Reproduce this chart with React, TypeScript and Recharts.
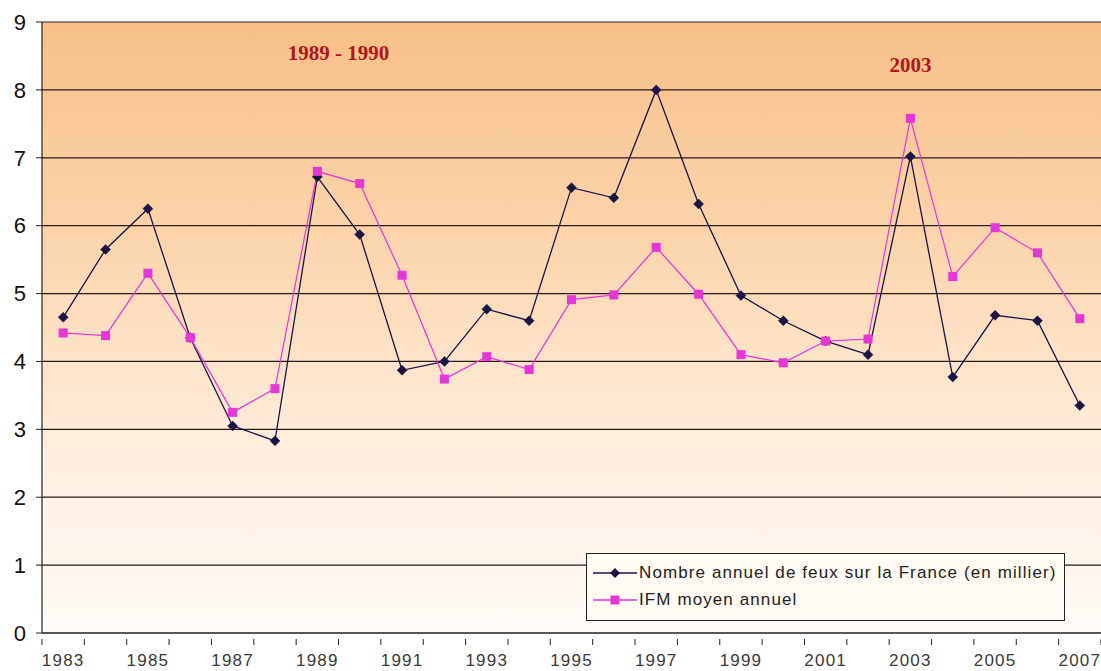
import React from 'react'
import {
  LineChart,
  Line,
  XAxis,
  YAxis,
  CartesianGrid,
  ReferenceDot,
} from 'recharts'

const years = [
  '1983', '1984', '1985', '1986', '1987', '1988', '1989', '1990', '1991', '1992',
  '1993', '1994', '1995', '1996', '1997', '1998', '1999', '2000', '2001', '2002',
  '2003', '2004', '2005', '2006', '2007',
]

// Nombre annuel de feux sur la France (en millier)
const feux = [
  4.65, 5.65, 6.25, 4.35, 3.05, 2.83, 6.72, 5.87, 3.87, 4.0,
  4.77, 4.6, 6.56, 6.41, 8.0, 6.32, 4.97, 4.6, 4.3, 4.1,
  7.02, 3.77, 4.68, 4.6, 3.35,
]

// IFM moyen annuel
const ifm = [
  4.42, 4.38, 5.3, 4.35, 3.25, 3.6, 6.8, 6.62, 5.27, 3.74,
  4.07, 3.88, 4.91, 4.98, 5.68, 4.99, 4.1, 3.98, 4.3, 4.33,
  7.58, 5.25, 5.97, 5.6, 4.63,
]

const yTicks = [0, 1, 2, 3, 4, 5, 6, 7, 8, 9]

const data = years.map((y, i) => ({ year: y, feux: feux[i], ifm: ifm[i] }))

if (typeof document !== 'undefined') document.body.style.margin = '0'

const W = 1101
const H = 671
const M = { top: 22, right: 0, left: 0, bottom: 0 }
const Y_W = 42
const X_H = 38
const BAND = (W - M.left - M.right - Y_W) / years.length

const NAVY = '#1c1446'
const PINK = '#e636d8'

const Diamond = ({ cx, cy }: any) => {
  if (cx == null || cy == null) return null
  const r = 5
  return (
    <path
      d={`M${cx},${cy - r} L${cx + r},${cy} L${cx},${cy + r} L${cx - r},${cy} Z`}
      fill={NAVY}
      stroke={NAVY}
      strokeWidth={0.5}
    />
  )
}

const Square = ({ cx, cy }: any) => {
  if (cx == null || cy == null) return null
  const s = 9
  return <rect x={cx - s / 2} y={cy - s / 2} width={s} height={s} fill={PINK} />
}

const XTick = ({ x, y, payload, index }: any) => {
  const i = index ?? payload?.index ?? 0
  const last = i === years.length - 1
  return (
    <g>
      <line x1={x - BAND / 2} x2={x - BAND / 2} y1={y - 2} y2={y + 4} stroke="#222" />
      {last && <line x1={x + BAND / 2} x2={x + BAND / 2} y1={y - 2} y2={y + 4} stroke="#222" />}
      {i % 2 === 0 && (
        <text
          x={x}
          y={y + 25}
          textAnchor="middle"
          fill="#3a3a3a"
          fontSize={17}
          letterSpacing={1.2}
          fontFamily="Liberation Sans, Arial, sans-serif"
        >
          {payload.value}
        </text>
      )}
    </g>
  )
}

const LegendBox = () => (
  <div
    style={{
      position: 'absolute',
      left: 586,
      top: 553,
      width: 479,
      height: 68,
      border: '1.5px solid #222',
      background: '#fffaf3',
      boxSizing: 'border-box',
      fontFamily: 'Liberation Sans, Arial, sans-serif',
      fontSize: 17,
      letterSpacing: 1.1,
      color: '#222',
      padding: '5px 0 0 6px',
      whiteSpace: 'nowrap',
    }}
  >
    <div style={{ display: 'flex', alignItems: 'center', height: 27 }}>
      <svg width={44} height={14}>
        <line x1={0} x2={44} y1={7} y2={7} stroke={NAVY} strokeWidth={1.3} />
        <path d="M22,2 L27,7 L22,12 L17,7 Z" fill={NAVY} />
      </svg>
      <span style={{ marginLeft: 2 }}>Nombre annuel de feux sur la France (en millier)</span>
    </div>
    <div style={{ display: 'flex', alignItems: 'center', height: 27 }}>
      <svg width={44} height={14}>
        <line x1={0} x2={44} y1={7} y2={7} stroke={PINK} strokeWidth={1.3} />
        <rect x={17.5} y={2.5} width={9} height={9} fill={PINK} />
      </svg>
      <span style={{ marginLeft: 2 }}>IFM moyen annuel</span>
    </div>
  </div>
)

const annotStyle = {
  fill: '#b3161a',
  fontSize: 21,
  fontWeight: 700,
  fontFamily: 'Liberation Serif, Times New Roman, serif',
}

export default function App() {
  return (
    <div style={{ position: 'relative', width: W, height: H, background: '#fff' }}>
      <LineChart width={W} height={H} data={data} margin={M}>
        <defs>
          <linearGradient id="bgGrad" x1="0" y1="0" x2="0" y2="1">
            <stop offset="0%" stopColor="#f8c088" />
            <stop offset="35%" stopColor="#fbd4aa" />
            <stop offset="70%" stopColor="#feeedf" />
            <stop offset="100%" stopColor="#fffbf7" />
          </linearGradient>
        </defs>
        <CartesianGrid
          vertical={false}
          horizontal
          stroke="#2a1a1a"
          strokeWidth={1.2}
          fill="url(#bgGrad)"
          fillOpacity={1}
        />
        <XAxis
          dataKey="year"
          interval={0}
          padding={{ left: BAND / 2, right: BAND / 2 }}
          axisLine={{ stroke: '#222', strokeWidth: 1.2 }}
          tickLine={false}
          tick={<XTick />}
          height={X_H}
        />
        <YAxis
          domain={[0, 9]}
          ticks={yTicks}
          width={Y_W}
          axisLine={{ stroke: '#222', strokeWidth: 1.2 }}
          tickLine={{ stroke: '#222' }}
          tickSize={6}
          tickMargin={10}
          tick={{ fill: '#111', fontSize: 22, fontFamily: 'Liberation Sans, Arial, sans-serif' }}
        />
        <ReferenceDot
          x="1989"
          y={8.55}
          r={0}
          fill="none"
          stroke="none"
          label={{ value: '1989 - 1990', position: 'center', dx: BAND / 2, ...annotStyle }}
        />
        <ReferenceDot
          x="2003"
          y={8.37}
          r={0}
          fill="none"
          stroke="none"
          label={{ value: '2003', position: 'center', ...annotStyle }}
        />
        <Line
          type="linear"
          dataKey="feux"
          name="Nombre annuel de feux sur la France (en millier)"
          stroke={NAVY}
          strokeWidth={1.3}
          dot={<Diamond />}
          activeDot={false}
          isAnimationActive={false}
        />
        <Line
          type="linear"
          dataKey="ifm"
          name="IFM moyen annuel"
          stroke={PINK}
          strokeWidth={1.2}
          dot={<Square />}
          activeDot={false}
          isAnimationActive={false}
        />
      </LineChart>
      <LegendBox />
    </div>
  )
}
